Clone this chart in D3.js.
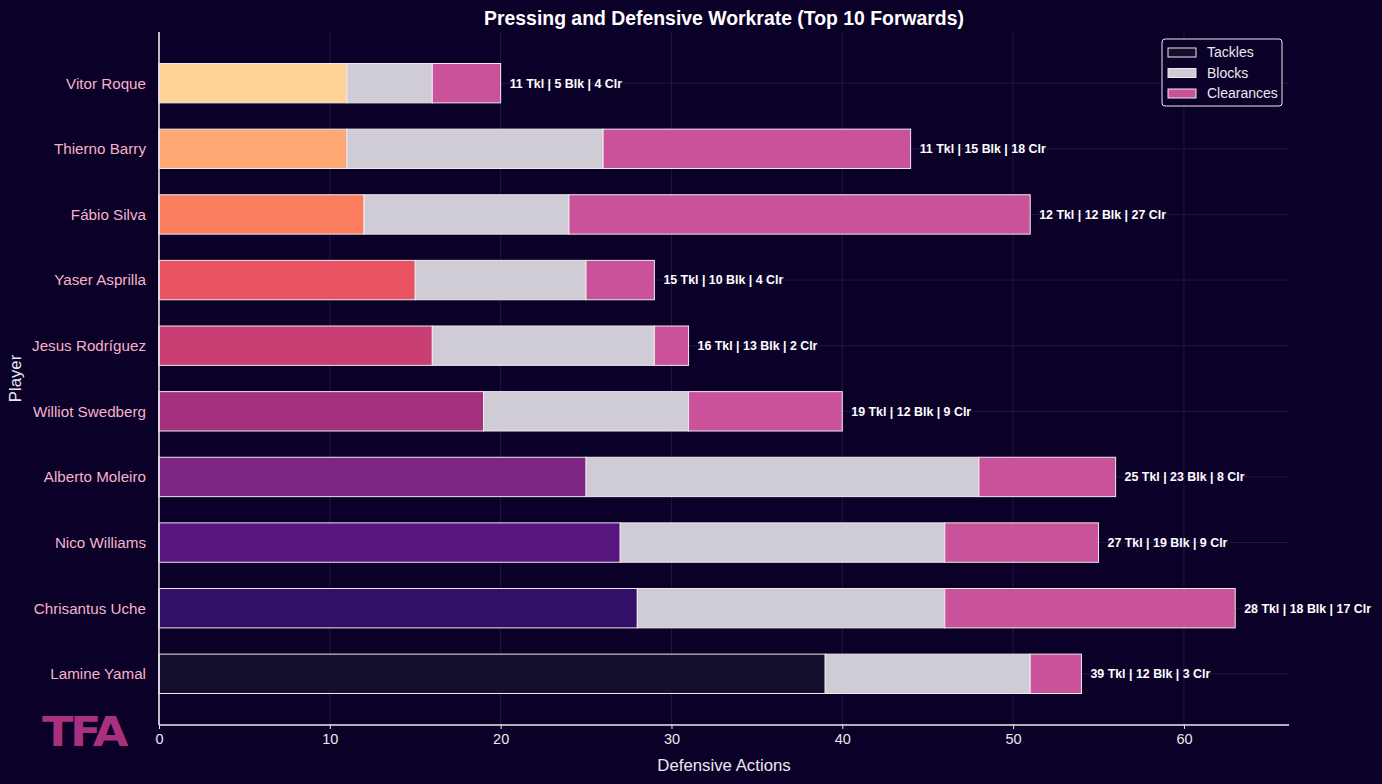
<!DOCTYPE html>
<html><head><meta charset="utf-8">
<script src="https://cdn.jsdelivr.net/npm/d3@7"></script>
<style>html,body{margin:0;padding:0;background:#0b0028;}svg{display:block;}</style>
</head><body>
<svg id="chart" width="1382" height="784"></svg>
<script>
const players = ["Lamine Yamal","Chrisantus Uche","Nico Williams","Alberto Moleiro","Williot Swedberg","Jesus Rodríguez","Yaser Asprilla","Fábio Silva","Thierno Barry","Vitor Roque"];
const tackles = [39,28,27,25,19,16,15,12,11,11];
const blocks = [12,18,19,23,12,13,10,12,15,5];
const clearances = [3,17,9,8,9,2,4,27,18,4];
const tackleColors = ["#140f2c","#331067","#58157e","#7e2482","#a3307e","#c83e73","#e85462","#fa7e5e","#fea873","#fed395"];
const xTicks = [0,10,20,30,40,50,60];
const seriesNames = ["Tackles","Blocks","Clearances"];

const W=1382,H=784;
const FONT="Liberation Sans, Arial, sans-serif";
const m={left:159,right:1289,top:32,bottom:725};
const svg=d3.select("#chart");
svg.append("rect").attr("width",W).attr("height",H).attr("fill","#0b0028");
const totals=players.map((p,i)=>tackles[i]+blocks[i]+clearances[i]);
const x=d3.scaleLinear().domain([0,d3.max(totals)*1.05]).range([m.left,m.right]);
const y=d3.scaleLinear().domain([-0.78,9.78]).range([m.bottom,m.top]);
const bh=y(0)-y(0.6);
const gridC="rgba(90,80,130,0.35)";
// grid
const g=svg.append("g");
xTicks.forEach(t=>g.append("line").attr("x1",x(t)).attr("x2",x(t)).attr("y1",m.top).attr("y2",m.bottom).attr("stroke",gridC).attr("stroke-width",0.8));
players.forEach((p,i)=>g.append("line").attr("x1",m.left).attr("x2",m.right).attr("y1",y(i)).attr("y2",y(i)).attr("stroke",gridC).attr("stroke-width",0.8));
// bars
const BLK="#cfccd6", CLR="#c9529a";
players.forEach((p,i)=>{
  const yc=y(i);
  const segs=[[0,tackles[i],tackleColors[i]],[tackles[i],tackles[i]+blocks[i],BLK],[tackles[i]+blocks[i],totals[i],CLR]];
  segs.forEach(s=>{
    svg.append("rect").attr("x",x(s[0])).attr("y",yc-bh/2).attr("width",x(s[1])-x(s[0])).attr("height",bh)
      .attr("fill",s[2]).attr("stroke","#f0e8f0").attr("stroke-width",1);
  });
  svg.append("text").attr("x",x(totals[i])+9).attr("y",yc).attr("dy","0.35em")
    .attr("fill","#ffffff").attr("font-family",FONT).attr("font-weight","bold").attr("font-size",12.4)
    .text(`${tackles[i]} Tkl | ${blocks[i]} Blk | ${clearances[i]} Clr`);
});
// axes
const xa=svg.append("g").attr("transform",`translate(0,${m.bottom})`).call(d3.axisBottom(x).tickValues(xTicks).tickSize(4).tickPadding(5));
xa.select(".domain").attr("stroke","#ece8ee").attr("stroke-width",1.6).attr("d",`M${m.left},0H${m.right}`);
xa.selectAll(".tick line").attr("stroke","#ece8ee");
xa.selectAll(".tick text").attr("fill","#ece8ee").attr("font-family",FONT).attr("font-size",14.5);
const ya=svg.append("g").attr("transform",`translate(${m.left},0)`).call(d3.axisLeft(y).tickValues(d3.range(players.length)).tickFormat(i=>players[i]).tickSize(0).tickPadding(13));
ya.select(".domain").attr("stroke","#ece8ee").attr("stroke-width",1.6).attr("d",`M0,${m.top}V${m.bottom}`);
ya.selectAll(".tick text").attr("fill","#f5b3c9").attr("font-family",FONT).attr("font-size",15.2);
// labels
svg.append("text").attr("x",(m.left+m.right)/2).attr("y",25).attr("text-anchor","middle").attr("fill","#ffffff")
  .attr("font-family",FONT).attr("font-weight","bold").attr("font-size",19.4)
  .text("Pressing and Defensive Workrate (Top 10 Forwards)");
svg.append("text").attr("x",(m.left+m.right)/2).attr("y",771).attr("text-anchor","middle").attr("fill","#ece8ee")
  .attr("font-family",FONT).attr("font-size",16.8).text("Defensive Actions");
svg.append("text").attr("transform",`translate(21,${(m.top+m.bottom)/2}) rotate(-90)`).attr("text-anchor","middle").attr("fill","#ece8ee")
  .attr("font-family",FONT).attr("font-size",16.8).text("Player");
// legend
const lg=svg.append("g").attr("transform","translate(1162,39)");
lg.append("rect").attr("width",120).attr("height",67).attr("rx",3).attr("fill","#0b0028").attr("stroke","#ece8ee").attr("stroke-width",1);
const legC=["#140f2c",BLK,CLR];
seriesNames.forEach((s,i)=>{
  lg.append("rect").attr("x",6).attr("y",9+i*20.5).attr("width",28).attr("height",9).attr("fill",legC[i]).attr("stroke","#f0e8f0").attr("stroke-width",1);
  lg.append("text").attr("x",45).attr("y",13.5+i*20.5).attr("dy","0.35em").attr("fill","#ece8ee")
    .attr("font-family",FONT).attr("font-size",14).text(s);
});
// logo
svg.append("text").attr("x",42).attr("y",746).attr("fill","#a8317f").attr("font-family","DejaVu Sans, sans-serif")
  .attr("font-weight","bold").attr("font-size",40).attr("letter-spacing",-3).attr("textLength",83).attr("lengthAdjust","spacingAndGlyphs").text("TFA");
</script>
</body></html>
